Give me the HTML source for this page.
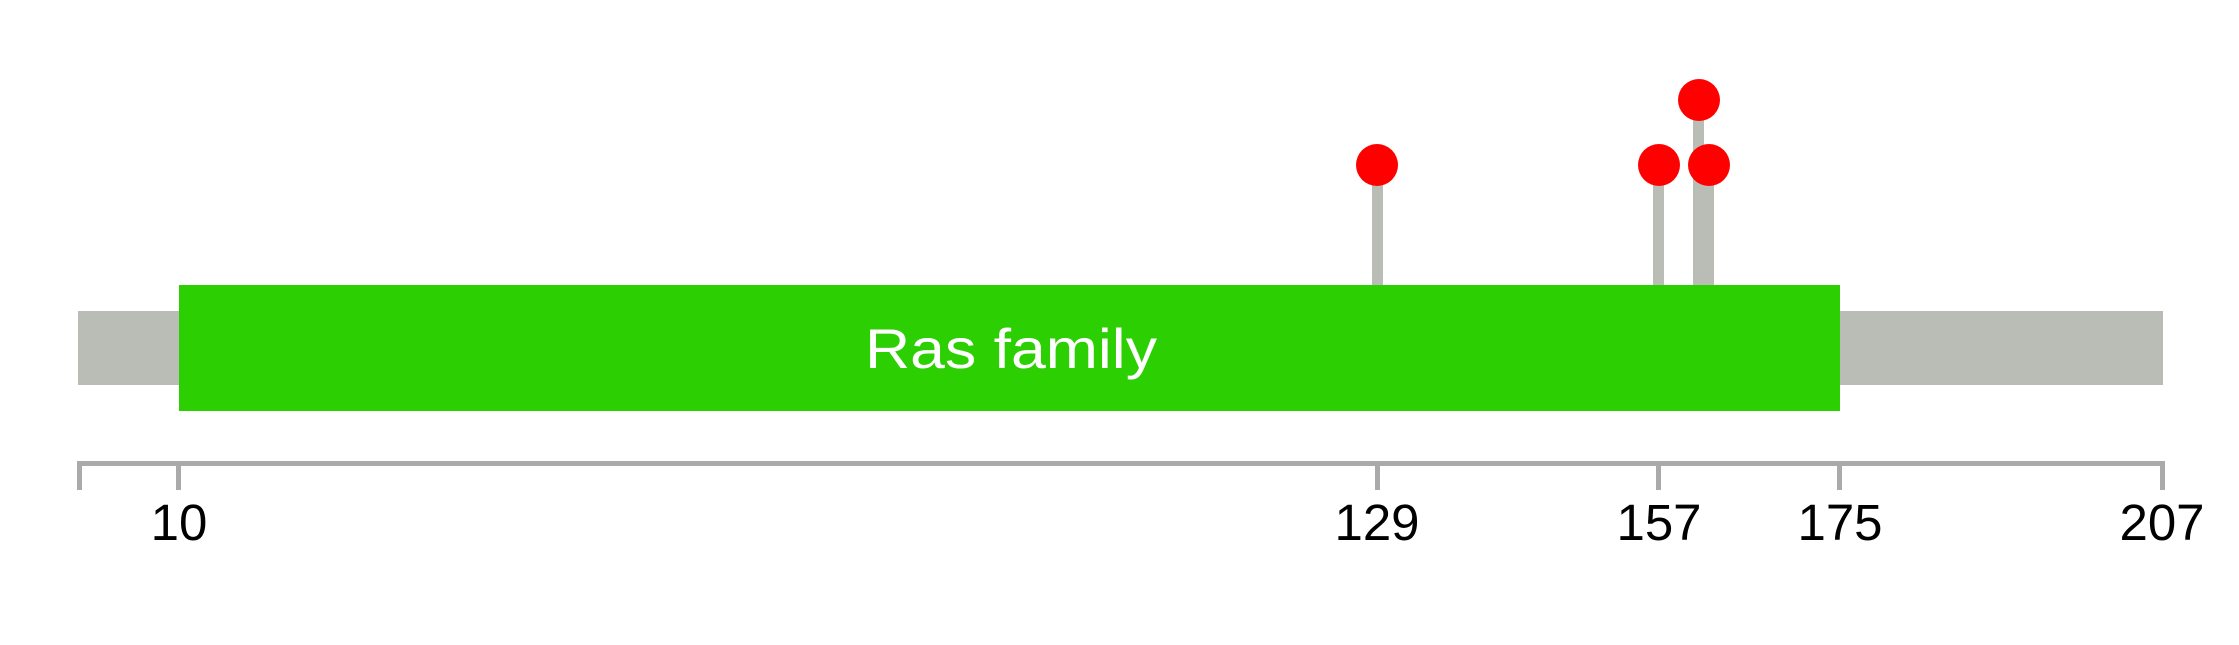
<!DOCTYPE html>
<html><head><meta charset="utf-8"><style>html,body{margin:0;padding:0;background:#fff;}svg{display:block}</style></head>
<body>
<svg width="2239" height="645" xmlns="http://www.w3.org/2000/svg" font-family="Liberation Sans, Arial, sans-serif">
<rect x="0" y="0" width="2239" height="645" fill="#fff"/>
<rect x="78" y="311" width="2085" height="74" fill="#babcb6"/>
<!-- sticks -->
<rect x="1372" y="165" width="11" height="125" fill="#babcb6"/>
<rect x="1653" y="165" width="11" height="125" fill="#babcb6"/>
<rect x="1693" y="100" width="11" height="190" fill="#babcb6"/>
<rect x="1703" y="165" width="11" height="125" fill="#babcb6"/>
<rect x="179" y="285" width="1661" height="126" fill="#2ccf02"/>
<text x="1011" y="368" font-size="56" fill="#fff" text-anchor="middle" textLength="292" lengthAdjust="spacingAndGlyphs">Ras family</text>
<circle cx="1377" cy="165" r="21" fill="#ff0000"/>
<circle cx="1659" cy="165" r="21" fill="#ff0000"/>
<circle cx="1699" cy="100" r="21" fill="#ff0000"/>
<circle cx="1709" cy="165" r="21" fill="#ff0000"/>
<!-- axis -->
<rect x="78" y="461" width="2087" height="5" fill="#aaaaaa"/>
<g fill="#aaaaaa">
<rect x="77" y="461" width="5" height="29"/>
<rect x="176" y="461" width="5" height="29"/>
<rect x="1375" y="461" width="5" height="29"/>
<rect x="1656" y="461" width="5" height="29"/>
<rect x="1837" y="461" width="5" height="29"/>
<rect x="2160" y="461" width="5" height="29"/>
</g>
<g font-size="51" fill="#000" text-anchor="middle">
<text x="179" y="540">10</text>
<text x="1377" y="540">129</text>
<text x="1659" y="540">157</text>
<text x="1840" y="540">175</text>
<text x="2162" y="540">207</text>
</g>
</svg>
</body></html>
